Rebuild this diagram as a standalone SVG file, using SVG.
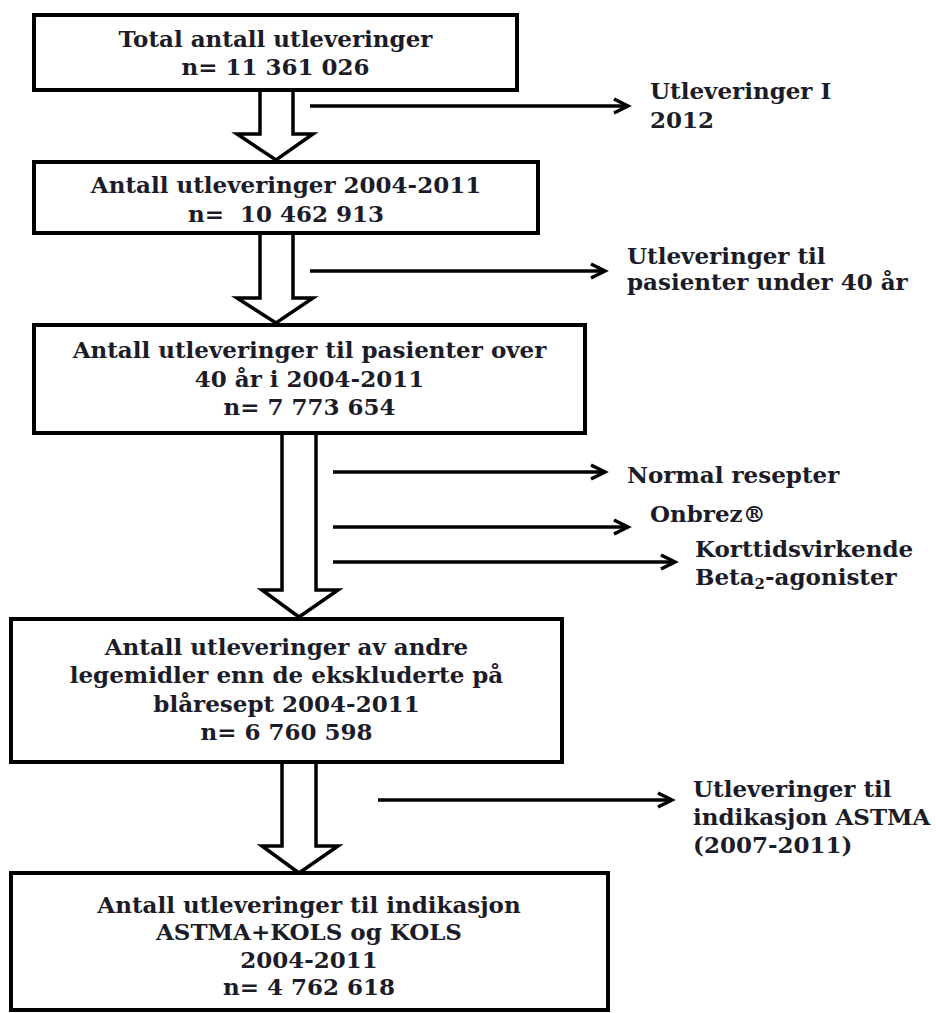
<svg xmlns="http://www.w3.org/2000/svg" width="936" height="1013" viewBox="0 0 936 1013">
<defs>
<marker id="ah" markerUnits="userSpaceOnUse" markerWidth="20" markerHeight="20" viewBox="-16 -10 20 20" refX="0" refY="0" orient="auto">
<path d="M-14,-7 L0,0 L-14,7" fill="none" stroke="#000" stroke-width="3.5" stroke-linejoin="miter"/>
</marker>
</defs>
<style>
.box{fill:#fff;stroke:#000;stroke-width:4}
.blk{fill:#fff;stroke:#000;stroke-width:3.5;stroke-linejoin:miter}
.ln{stroke:#000;stroke-width:3.5;fill:none;marker-end:url(#ah)}
text{font-family:"DejaVu Serif","Liberation Serif",serif;font-weight:bold;font-size:23px;fill:#1c1c28}
.c{text-anchor:middle}
</style>
<rect width="936" height="1013" fill="#fff"/>
<g id="connectors">
<path class="blk" d="M260,90 V134 H237 L276,160 L313,134 H293 V90"/>
<path class="blk" d="M260,233 V298 H237 L276,323 L313,298 H293 V233"/>
<path class="blk" d="M282,433 V590 H262 L299,617 L338,590 H316 V433"/>
<path class="blk" d="M282,762 V846 H262 L299,873 L338,846 H316 V762"/>
<line class="ln" x1="310" y1="106" x2="628" y2="106"/>
<line class="ln" x1="310" y1="271" x2="605" y2="271"/>
<line class="ln" x1="333" y1="472" x2="605" y2="472"/>
<line class="ln" x1="333" y1="527" x2="628" y2="527"/>
<line class="ln" x1="333" y1="562" x2="675" y2="562"/>
<line class="ln" x1="378" y1="800" x2="672" y2="800"/>
</g>
<g id="n1">
<rect class="box" x="34" y="15" width="483" height="75"/>
<text class="c" x="275.5" y="47">Total antall utleveringer</text>
<text class="c" x="275.5" y="75">n= 11 361 026</text>
</g>
<g id="n2">
<rect class="box" x="34" y="162" width="504" height="71"/>
<text class="c" x="286" y="193">Antall utleveringer 2004-2011</text>
<text class="c" x="286" y="222" xml:space="preserve">n=  10 462 913</text>
</g>
<g id="n3">
<rect class="box" x="34" y="325" width="551" height="108"/>
<text class="c" x="309.5" y="358">Antall utleveringer til pasienter over</text>
<text class="c" x="309.5" y="387">40 år i 2004-2011</text>
<text class="c" x="309.5" y="415">n= 7 773 654</text>
</g>
<g id="n4">
<rect class="box" x="11" y="619" width="551" height="143"/>
<text class="c" x="286.5" y="655">Antall utleveringer av andre</text>
<text class="c" x="286.5" y="683">legemidler enn de ekskluderte på</text>
<text class="c" x="286.5" y="712">blåresept 2004-2011</text>
<text class="c" x="286.5" y="740">n= 6 760 598</text>
</g>
<g id="n5">
<rect class="box" x="11" y="873" width="597" height="137"/>
<text class="c" x="309" y="913">Antall utleveringer til indikasjon</text>
<text class="c" x="309" y="940">ASTMA+KOLS og KOLS</text>
<text class="c" x="309" y="968">2004-2011</text>
<text class="c" x="309" y="995">n= 4 762 618</text>
</g>
<g id="e1">
<text x="650" y="99">Utleveringer I</text>
<text x="650" y="128">2012</text>
</g>
<g id="e2">
<text x="627" y="264">Utleveringer til</text>
<text x="627" y="290">pasienter under 40 år</text>
</g>
<g id="e3">
<text x="627" y="483">Normal resepter</text>
</g>
<g id="e4">
<text x="650" y="522">Onbrez®</text>
</g>
<g id="e5">
<text x="695" y="557">Korttidsvirkende</text>
<text x="695" y="585">Beta<tspan font-size="15" dy="4">2</tspan><tspan dy="-4">-agonister</tspan></text>
</g>
<g id="e6">
<text x="693" y="797">Utleveringer til</text>
<text x="693" y="825">indikasjon ASTMA</text>
<text x="693" y="853">(2007-2011)</text>
</g>
</svg>
